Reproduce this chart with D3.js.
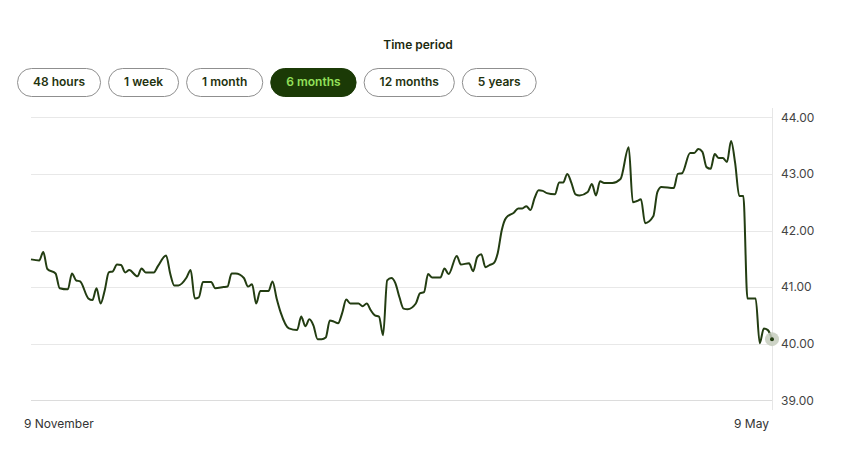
<!DOCTYPE html>
<html><head><meta charset="utf-8">
<script src="https://cdn.jsdelivr.net/npm/d3@7"></script>
<style>
html,body{margin:0;padding:0;background:#fff;}
svg{display:block;font-family:Inter,"Noto Sans",sans-serif;}
</style></head>
<body>
<svg id="c" width="841" height="473"></svg>
<script>
const periods = ["48 hours","1 week","1 month","6 months","12 months","5 years"];
const activePeriod = "6 months";
const yTicks = [39,40,41,42,43,44];
const xTickLabels = ["9 November","9 May"];
// days since 9 November
const dayOffsets = [0,2,3,4,6,7,9,10,11,12,14,15,16,17,18,19,20,21,22,23,24,26,27,28,30,31,33,34,35,36,38,39,40,41,42,44,45,47,48,49,50,52,53,54,55,56,58,59,60,61,63,65,66,67,68,69,70,71,72,73,74,75,76,77,78,80,81,82,83,84,85,86,87,88,89,90,91,92,94,95,96,97,98,100,101,102,104,105,107,108,109,110,111,112,113,114,115,116,118,119,120,121,122,123,124,125,126,128,129,130,131,132,133,134,136,137,138,139,140,142,144,146,147,148,149,150,152,153,154,157,158,159,161,162,163,164,165,166,167,168,169,170,171,172,173,174,175,177,178,179,180,181];
const prices = [41.49,41.47,41.62,41.32,41.24,40.98,40.96,41.24,41.12,41.10,40.80,40.77,40.98,40.71,40.94,41.26,41.28,41.40,41.39,41.26,41.30,41.19,41.33,41.26,41.26,41.37,41.56,41.24,41.03,41.03,41.17,41.30,40.80,40.82,41.09,41.09,40.98,41.00,41.01,41.24,41.24,41.16,41.01,41.05,40.71,40.93,40.93,41.10,40.80,40.55,40.27,40.24,40.48,40.31,40.43,40.32,40.08,40.08,40.11,40.41,40.39,40.36,40.54,40.78,40.71,40.71,40.66,40.71,40.59,40.50,40.48,40.15,41.12,41.16,41.07,40.82,40.62,40.61,40.71,40.89,40.91,41.23,41.17,41.17,41.33,41.23,41.55,41.40,41.42,41.28,41.53,41.58,41.35,41.39,41.42,41.60,42.01,42.22,42.32,42.39,42.39,42.43,42.36,42.57,42.71,42.70,42.66,42.64,42.85,42.85,43.00,42.84,42.64,42.62,42.68,42.82,42.62,42.87,42.84,42.84,42.91,43.47,42.50,42.52,42.55,42.13,42.25,42.68,42.77,42.75,43.00,43.01,43.37,43.37,43.44,43.39,43.12,43.09,43.35,43.28,43.28,43.21,43.58,43.19,42.61,42.61,40.80,40.80,40.01,40.27,40.24,40.08];

const data = dayOffsets.map((d,i)=>({d, v: prices[i]}));
const svg = d3.select("#c");

// header
svg.append("text").attr("x",418).attr("y",45).attr("dy","0.35em")
  .attr("text-anchor","middle").attr("font-size",12).attr("font-weight",600)
  .attr("fill","#1c2a10").text("Time period");

// buttons
let bx = 17;
const bg = svg.append("g");
periods.forEach(p=>{
  const g = bg.append("g");
  const t = g.append("text").attr("y",82).attr("dy","0.35em").attr("text-anchor","middle")
    .attr("font-size",12).attr("font-weight",600).text(p);
  const w = t.node().getComputedTextLength() + 31;
  const active = p===activePeriod;
  g.insert("rect","text").attr("x",bx+0.5).attr("y",68.5).attr("width",w).attr("height",28)
    .attr("rx",14).attr("fill",active?"#1b3a06":"#fff")
    .attr("stroke",active?"#1b3a06":"#8f8f8f").attr("stroke-width",1);
  t.attr("x",bx+0.5+w/2).attr("fill",active?"#93e05a":"#1f3310");
  bx += w + 8;
});

const x = d3.scaleLinear().domain([0,181]).range([31,772]);
const y = d3.scaleLinear().domain([39,44]).range([400.3,117.3]);

// grid
svg.append("g").selectAll("line").data(yTicks).join("line")
  .attr("x1",31).attr("x2",772).attr("y1",d=>Math.round(y(d))+0.5).attr("y2",d=>Math.round(y(d))+0.5)
  .attr("stroke",d=>d===39?"#dcdcdc":"#e8e8e8").attr("stroke-width",1);
svg.append("line").attr("x1",772.5).attr("x2",772.5).attr("y1",108).attr("y2",410)
  .attr("stroke","#e6e6e6");

// y labels
svg.append("g").selectAll("text").data(yTicks).join("text")
  .attr("x",781).attr("y",d=>y(d)).attr("dy","0.35em")
  .attr("font-size",12).attr("fill","#444").text(d=>d3.format(".2f")(d));

// x labels
svg.append("text").attr("x",24).attr("y",424).attr("dy","0.35em").attr("font-size",12)
  .attr("fill","#333").text(xTickLabels[0]);
svg.append("text").attr("x",769).attr("y",424).attr("dy","0.35em").attr("font-size",12)
  .attr("text-anchor","end").attr("fill","#333").text(xTickLabels[1]);

// line
const line = d3.line().x(d=>x(d.d)).y(d=>y(d.v)).curve(d3.curveMonotoneX);
svg.append("path").datum(data).attr("d",line).attr("fill","none")
  .attr("stroke","#233d12").attr("stroke-width",2).attr("stroke-linejoin","round");

// end marker
const last = data[data.length-1];
svg.append("circle").attr("cx",x(last.d)).attr("cy",y(last.v)).attr("r",7)
  .attr("fill","#c5cdbd").attr("opacity",0.85);
svg.append("circle").attr("cx",x(last.d)).attr("cy",y(last.v)).attr("r",2)
  .attr("fill","#233d12");
</script>
</body></html>
